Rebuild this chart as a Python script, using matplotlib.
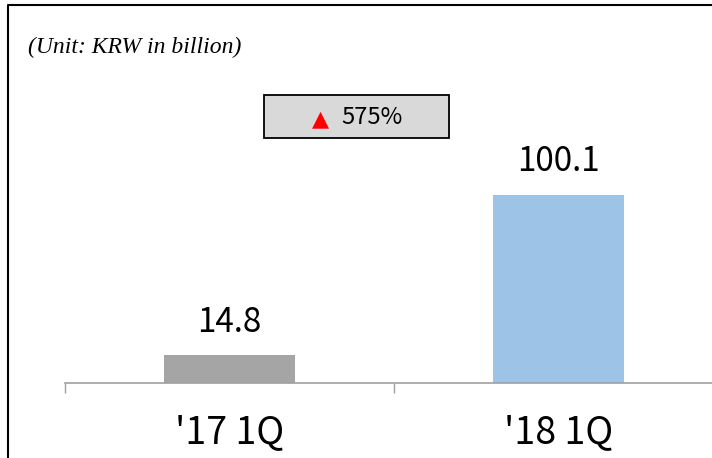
import matplotlib.pyplot as plt
from matplotlib.lines import Line2D
from matplotlib.patches import Rectangle

categories = ["'17 1Q", "'18 1Q"]
values = [14.8, 100.1]
labels = ["14.8", "100.1"]
colors = ["#a5a5a5", "#9dc3e6"]
growth = "575%"

W, H = 712, 458
fig = plt.figure(figsize=(W / 100, H / 100), dpi=100)
kr = ['Noto Sans CJK KR', 'DejaVu Sans']

# axes runs past the right edge like the original crop
ax = fig.add_axes([65 / W, 1 - 383 / H, 658 / W, 378 / H])
ax.bar(range(len(values)), values, width=0.40, color=colors, zorder=2)
ax.set_xlim(-0.5, 1.5)
ax.set_ylim(0, 201)

for i, v in enumerate(values):
    ax.annotate(labels[i], (i, v), xytext=(0, 11), textcoords='offset points',
                ha='center', va='bottom', fontsize=24, family=kr, weight='light')

for s in ['top', 'right', 'left']:
    ax.spines[s].set_visible(False)
ax.spines['bottom'].set_color('#a0a0a0')
ax.spines['bottom'].set_linewidth(1.2)
ax.set_yticks([])
ax.set_xticks([-0.5, 0.5, 1.5], minor=True)
ax.set_xticks(range(len(categories)))
ax.set_xticklabels(categories, fontsize=27, family=kr, weight='light')
ax.tick_params(axis='x', which='major', length=0, pad=22)
ax.tick_params(axis='x', which='minor', length=7, color='#a0a0a0', width=1)

# outer frame (left and top only)
fig.add_artist(Line2D([8 / W, 8 / W, 1], [0, 1 - 5 / H, 1 - 5 / H], color='black', lw=1.5))

fig.text(28 / W, 1 - 47 / H, "(Unit: KRW in billion)", fontsize=17, style='italic',
         family='Liberation Serif', va='center', ha='left')

# growth box
fig.add_artist(Rectangle((264 / W, 1 - 138 / H), 185 / W, 43 / H, facecolor='#d9d9d9',
                         edgecolor='black', lw=1.3, transform=fig.transFigure))
fig.text(321 / W, 1 - 119 / H, "\u25b2", color='red', fontsize=16, ha='center', va='center',
         family='DejaVu Sans')
fig.text(341 / W, 1 - 118 / H, growth, fontsize=17, ha='left', va='center',
         family=kr, weight='light')

fig.savefig('out.png', dpi=100)
